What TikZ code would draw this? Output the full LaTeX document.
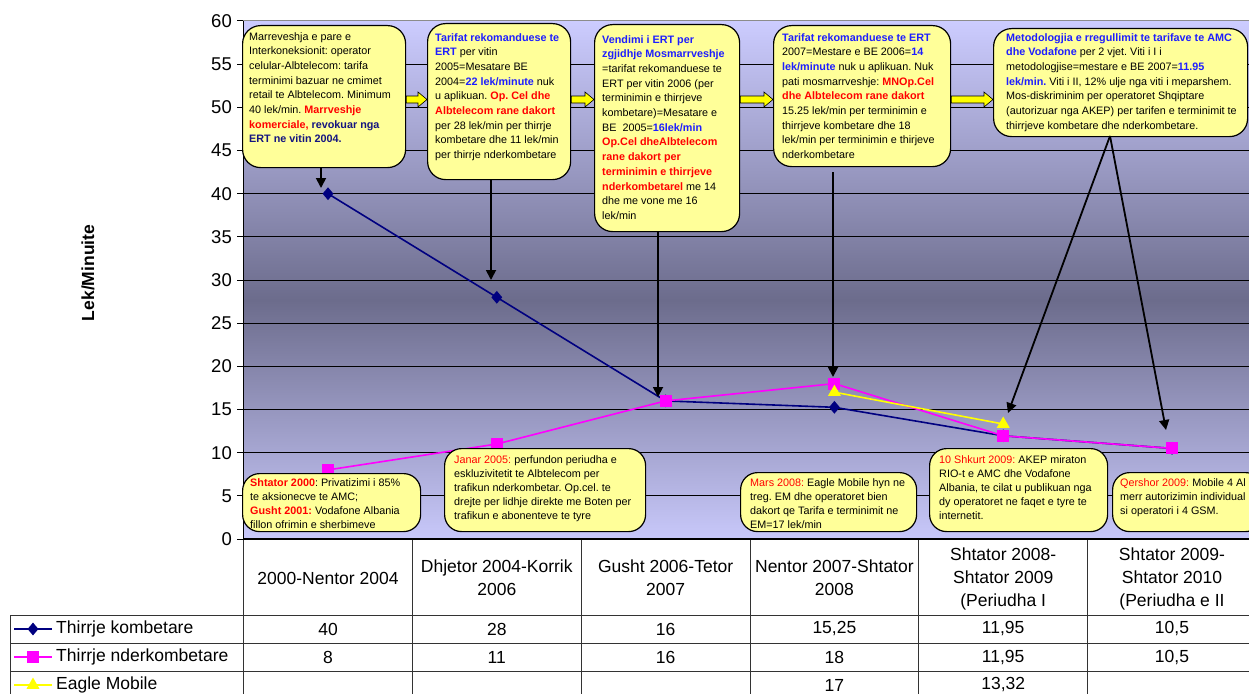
\documentclass[tikz,border=0pt]{standalone}
\usepackage{fontspec}
\setmainfont{Liberation Sans}
\usetikzlibrary{arrows.meta,shapes.geometric,calc}
\definecolor{cyel}{RGB}{255,255,153}
\definecolor{cred}{RGB}{255,0,0}
\definecolor{cblue}{RGB}{30,30,255}
\definecolor{cnavy}{RGB}{20,20,128}
\definecolor{knavy}{RGB}{0,0,128}
\definecolor{kmag}{RGB}{255,0,255}
\definecolor{kyel}{RGB}{255,255,0}
\definecolor{gtop}{RGB}{204,204,255}
\definecolor{gmid}{RGB}{108,108,140}
\definecolor{gbot}{RGB}{200,200,250}
\newcommand\redb[1]{\textcolor{cred}{\textbf{#1}}}
\newcommand\redn[1]{\textcolor{cred}{#1}}
\newcommand\blueb[1]{\textcolor{cblue}{\textbf{#1}}}
\newcommand\navyb[1]{\textcolor{cnavy}{\textbf{#1}}}
\frenchspacing
\begin{document}
\begin{tikzpicture}[x=1pt,y=-1pt,
  callout/.style={draw=black,line width=1.2pt,fill=cyel,rounded corners=18pt,anchor=north west,inner sep=0pt},
  bcallout/.style={callout,rounded corners=17pt},
  ctext/.style={anchor=north west,inner sep=0pt,align=left,font=\fontsize{10.8}{14.7}\selectfont},
  btext/.style={anchor=north west,inner sep=0pt,align=left,font=\fontsize{10.8}{14.2}\selectfont},
  yarrow/.style={draw=black,line width=0.6pt,fill=kyel},
  blk/.style={draw=black,line width=1.8pt,-{Triangle[length=10pt,width=10pt]}},
  grid/.style={draw=black,line width=0.8pt},
  tline/.style={draw=black!80,line width=0.9pt},
  ticklab/.style={anchor=east,inner sep=0pt,font=\fontsize{18.5}{21}\selectfont},
  thead/.style={align=center,inner sep=0pt,font=\fontsize{17.5}{23}\selectfont},
  tval/.style={inner sep=0pt,font=\fontsize{17.5}{21}\selectfont},
  tleg/.style={anchor=west,inner sep=0pt,font=\fontsize{17.5}{21}\selectfont},
  knline/.style={draw=knavy,line width=1.6pt},
  kmline/.style={draw=kmag,line width=1.6pt},
  kyline/.style={draw=kyel,line width=1.6pt},
  dmark/.style={diamond,fill=knavy,inner sep=0pt,minimum width=11pt,minimum height=13pt},
  smark/.style={rectangle,fill=kmag,inner sep=0pt,minimum size=12pt},
  tmark/.style={regular polygon,regular polygon sides=3,fill=kyel,inner sep=0pt,minimum size=15pt}
]
\path[use as bounding box] (0,0) rectangle (1249,693);
\clip (0,0) rectangle (1249,693);
\fill[white] (0,0) rectangle (1249,693);

% plot background
\shade[top color=gtop,bottom color=gmid] (243,21) rectangle (1260,300);
\shade[top color=gmid,bottom color=gbot] (243,300) rectangle (1260,539);
\draw[black!45,line width=1pt] (243,21) -- (1260,21);
\foreach \k in {1,...,11} {
  \draw[grid] (243,{539-43.167*\k}) -- (1260,{539-43.167*\k});
}
% axis and ticks
\draw[black,line width=1pt] (243,21) -- (243,539);
\foreach \k in {0,...,12} {
  \draw[black,line width=1pt] (237,{539-43.167*\k}) -- (243,{539-43.167*\k});
  \pgfmathtruncatemacro\lab{5*\k}
  \node[ticklab] (yt\k) at (232,{539-43.167*\k}) {\lab};
}
\node[rotate=90,font=\fontsize{17.5}{20}\bfseries] (ylab) at (88,273) {Lek/Minuite};

% data coordinates
\coordinate (k1) at (328.0,193.7);
\coordinate (k2) at (496.8,297.3);
\coordinate (k3) at (665.6,400.9);
\coordinate (k4) at (834.4,407.3);
\coordinate (k5) at (1003.2,435.8);
\coordinate (k6) at (1172.0,448.4);
\coordinate (m1) at (328.0,469.9);
\coordinate (m2) at (496.8,444.0);
\coordinate (m3) at (665.6,400.9);
\coordinate (m4) at (834.4,383.6);
\coordinate (m5) at (1003.2,435.8);
\coordinate (m6) at (1172.0,448.4);
\coordinate (e4) at (834.4,392.2);
\coordinate (e5) at (1003.2,424.0);

\draw[knline] (k1) -- (k2) -- (k3) -- (k4) -- (k5) -- (k6);
\foreach \p in {1,...,6} { \node[dmark] (dk\p) at (k\p) {}; }
\draw[kmline] (m1) -- (m2) -- (m3) -- (m4) -- (m5) -- (m6);
\foreach \p in {1,...,6} { \node[smark] (sm\p) at (m\p) {}; }
\draw[kyline] (e4) -- (e5);
\node[tmark] (te4) at (e4) {};
\node[tmark] (te5) at (e5) {};

% top callouts
\node[callout,minimum width=163pt,minimum height=142pt] (b1) at (242,25) {};
\node[callout,minimum width=143pt,minimum height=156pt] (b2) at (427,23) {};
\node[callout,minimum width=145pt,minimum height=207pt] (b3) at (594,24) {};
\node[callout,minimum width=177pt,minimum height=141pt] (b4) at (773,25) {};
\node[callout,minimum width=254pt,minimum height=108pt] (b5) at (993,28) {};

\node[ctext] (t1) at (249,32) {Marreveshja e pare e\\
Interkoneksionit: operator\\
celular-Albtelecom: tarifa\\
terminimi bazuar ne cmimet\\
retail te Albtelecom. Minimum\\
40 lek/min. \redb{Marrveshje}\\
\redb{komerciale,} \navyb{revokuar nga}\\
\navyb{ERT ne vitin 2004.}};

\node[ctext] (t2) at (435,33) {\blueb{Tarifat rekomanduese te}\\
\blueb{ERT} per vitin\\
2005=Mesatare BE\\
2004=\blueb{22 lek/minute} nuk\\
u aplikuan. \redb{Op. Cel dhe}\\
\redb{Albtelecom rane dakort}\\
per 28 lek/min per thirrje\\
kombetare dhe 11 lek/min\\
per thirrje nderkombetare};

\node[ctext] (t3) at (602,35) {\blueb{Vendimi i ERT per}\\
\blueb{zgjidhje Mosmarrveshje}\\
=tarifat rekomanduese te\\
ERT per vitin 2006 (per\\
terminimin e thirrjeve\\
kombetare)=Mesatare e\\
BE\ \ 2005=\blueb{16lek/min}\\
\redb{Op.Cel dheAlbtelecom}\\
\redb{rane dakort per}\\
\redb{terminimin e thirrjeve}\\
\redb{nderkombetarel} me 14\\
dhe me vone me 16\\
lek/min};

\node[ctext] (t4) at (782,33) {\blueb{Tarifat rekomanduese te ERT}\\
2007=Mestare e BE 2006=\blueb{14}\\
\blueb{lek/minute} nuk u aplikuan. Nuk\\
pati mosmarrveshje: \redb{MNOp.Cel}\\
\redb{dhe Albtelecom rane dakort}\\
15.25 lek/min per terminimin e\\
thirrjeve kombetare dhe 18\\
lek/min per terminimin e thirjeve\\
nderkombetare};

\node[ctext] (t5) at (1006,33) {\blueb{Metodologjia e rregullimit te tarifave te AMC}\\
\blueb{dhe Vodafone} per 2 vjet. Viti i I i\\
metodologjise=mestare e BE 2007=\blueb{11.95}\\
\blueb{lek/min.} Viti i II, 12\% ulje nga viti i meparshem.\\
Mos-diskriminim per operatoret Shqiptare\\
(autorizuar nga AKEP) per tarifen e terminimit te\\
thirrjeve kombetare dhe nderkombetare.};

% yellow block arrows between top callouts
\coordinate (ya) at (0,99.5);
\foreach \a/\b in {b1/b2,b2/b3,b3/b4,b4/b5} {
  \path[yarrow] ($(\a.east|-ya)+(0,-3.5)$) -- ($(\b.west|-ya)+(-9,-3.5)$) -- ($(\b.west|-ya)+(-9,-7.5)$)
    -- (\b.west|-ya) -- ($(\b.west|-ya)+(-9,7.5)$) -- ($(\b.west|-ya)+(-9,3.5)$) -- ($(\a.east|-ya)+(0,3.5)$) -- cycle;
}

% black pointer arrows
\coordinate (a1) at (321,188);
\coordinate (a2) at (491,280);
\coordinate (a3) at (658,397);
\coordinate (a4) at (833,377);
\coordinate (a5) at (1008,413);
\coordinate (a6) at (1166,430);
\coordinate (b5s) at (1110,136);
\draw[blk] (b1.south-|a1) -- (a1);
\draw[blk] (b2.south-|a2) -- (a2);
\draw[blk] (b3.south-|a3) -- (a3);
\draw[blk] ($(b4.south-|a4)+(0,5)$) -- (a4);
\draw[blk] (b5s) -- (a5);
\draw[blk] (b5s) -- (a6);

% bottom callouts
\node[bcallout,minimum width=178pt,minimum height=58pt] (c1) at (242,473) {};
\node[bcallout,minimum width=201pt,minimum height=83pt] (c2) at (444,448) {};
\node[bcallout,minimum width=176pt,minimum height=59pt] (c3) at (740,472) {};
\node[bcallout,minimum width=178pt,minimum height=83pt] (c4) at (929,448) {};
\node[bcallout,minimum width=150pt,minimum height=59pt] (c5) at (1112,472) {};

\node[btext] (u1) at (250,478) {\redb{Shtator 2000}: Privatizimi i 85\%\\
te aksionecve te AMC;\\
\redb{Gusht 2001:} Vodafone Albania\\
fillon ofrimin e sherbimeve};
\node[btext] (u2) at (454,455) {\redn{Janar 2005:} perfundon periudha e\\
eskluzivitetit te Albtelecom per\\
trafikun nderkombetar. Op.cel. te\\
drejte per lidhje direkte me Boten per\\
trafikun e abonenteve te tyre};
\node[btext] (u3) at (750,478) {\redn{Mars 2008:} Eagle Mobile hyn ne\\
treg. EM dhe operatoret bien\\
dakort qe Tarifa e terminimit ne\\
EM=17 lek/min};
\node[btext] (u4) at (939,455) {\redn{10 Shkurt 2009:} AKEP miraton\\
RIO-t e AMC dhe Vodafone\\
Albania, te cilat u publikuan nga\\
dy operatoret ne faqet e tyre te\\
internetit.};
\node[btext] (u5) at (1120,478) {\redn{Qershor 2009:} Mobile 4 Al\\
merr autorizimin individual\\
si operatori i 4 GSM.};

% data table
\draw[tline] (10,615) -- (1260,615);
\draw[tline] (10,643) -- (1260,643);
\draw[tline] (10,671) -- (1260,671);
\draw[tline] (10,615) -- (10,700);
\draw[tline] (243,539) -- (243,700);
\foreach \x in {412.4,581.2,750,918.8,1087.6} { \draw[tline] (\x,539) -- (\x,700); }
\draw[black,line width=2pt] (243,539) -- (1260,539);

\node[thead] (h1) at (328.0,578) {2000-Nentor 2004};
\node[thead] (h2) at (496.8,578) {Dhjetor 2004-Korrik\\2006};
\node[thead] (h3) at (665.6,578) {Gusht 2006-Tetor\\2007};
\node[thead] (h4) at (834.4,578) {Nentor 2007-Shtator\\2008};
\node[thead] (h5) at (1003.2,579) {Shtator 2008-\\Shtator 2009\\(Periudha I};
\node[thead] (h6) at (1172.0,579) {Shtator 2009-\\Shtator 2010\\(Periudha e II};

\foreach \x/\v [count=\i] in {328.0/40,496.8/28,665.6/16,834.4/{15,25},1003.2/{11,95},1172.0/{10,5}} {
  \node[tval] (r1c\i) at (\x,629) {\v};
}
\foreach \x/\v [count=\i] in {328.0/8,496.8/11,665.6/16,834.4/18,1003.2/{11,95},1172.0/{10,5}} {
  \node[tval] (r2c\i) at (\x,657) {\v};
}
\node[tval] (r3c4) at (834.4,685) {17};
\node[tval] (r3c5) at (1003.2,685) {13,32};

% legend
\coordinate (l1a) at (14,629); \coordinate (l1b) at (52,629);
\coordinate (l2a) at (14,657); \coordinate (l2b) at (52,657);
\coordinate (l3a) at (14,685); \coordinate (l3b) at (52,685);
\draw[knline] (l1a) -- (l1b); \node[dmark] (lm1) at (33,629) {};
\draw[kmline] (l2a) -- (l2b); \node[smark] (lm2) at (33,657) {};
\draw[kyline] (l3a) -- (l3b); \node[tmark] (lm3) at (33,685) {};
\node[tleg] (lt1) at (56,629) {Thirrje kombetare};
\node[tleg] (lt2) at (56,657) {Thirrje nderkombetare};
\node[tleg] (lt3) at (56,685) {Eagle Mobile};
\end{tikzpicture}
\end{document}
